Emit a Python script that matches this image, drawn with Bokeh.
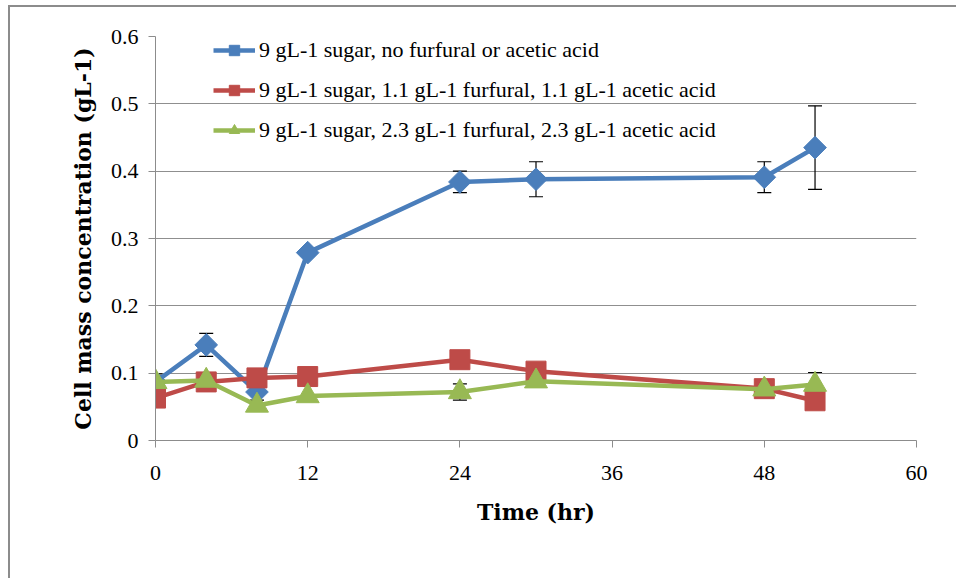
from bokeh.plotting import figure
from bokeh.models import (ColumnDataSource, Whisker, TeeHead, FixedTicker, Legend, LegendItem, Range1d)
from bokeh.embed import file_html
from bokeh.resources import INLINE
import math

# ---- data ----
time_hr = [0, 4, 8, 12, 24, 30, 48, 52]

s1_name = "9 gL-1 sugar, no furfural or acetic acid"
s1_vals = [0.087, 0.142, 0.072, 0.279, 0.384, 0.388, 0.391, 0.435]
s1_err = [0.012, 0.017, 0.012, 0.005, 0.016, 0.026, 0.023, 0.062]

s2_name = "9 gL-1 sugar, 1.1 gL-1 furfural, 1.1 gL-1 acetic acid"
s2_vals = [0.063, 0.087, 0.093, 0.095, 0.120, 0.103, 0.077, 0.059]
s2_err = [0, 0, 0, 0, 0, 0, 0, 0]

s3_name = "9 gL-1 sugar, 2.3 gL-1 furfural, 2.3 gL-1 acetic acid"
s3_vals = [0.087, 0.089, 0.052, 0.066, 0.072, 0.088, 0.076, 0.083]
s3_err = [0, 0, 0, 0, 0.012, 0, 0, 0.018]

x_ticks = [0, 12, 24, 36, 48, 60]
y_ticks = [0, 0.1, 0.2, 0.3, 0.4, 0.5, 0.6]
y_tick_labels = ["0", "0.1", "0.2", "0.3", "0.4", "0.5", "0.6"]

x_title = "Time (hr)"
y_title = "Cell mass concentration (gL-1)"

colors = ["#4A7EBB", "#BE4B48", "#98B954"]

# ---- figure ----
p = figure(frame_width=761, frame_height=404,
           x_range=Range1d(0, 60), y_range=Range1d(0, 0.6),
           output_backend="svg", toolbar_location=None,
           min_border_left=145, min_border_top=29, min_border_right=40, min_border_bottom=138)
p.styles = {"border-left": "2px solid #8c8c8c", "border-top": "2px solid #8c8c8c",
            "margin-left": "8px", "margin-top": "5px"}
p.outline_line_color = None
p.background_fill_color = "white"
p.border_fill_color = "white"

p.xgrid.visible = False
p.ygrid.grid_line_color = "#8f8f8f"
p.ygrid.grid_line_width = 1
p.ygrid.ticker = FixedTicker(ticks=y_ticks)

p.xaxis.ticker = FixedTicker(ticks=x_ticks)
p.yaxis.ticker = FixedTicker(ticks=y_ticks)
p.yaxis.major_label_overrides = {v: l for v, l in zip(y_ticks, y_tick_labels)}

for ax in (p.xaxis[0], p.yaxis[0]):
    ax.axis_line_color = "#8c8c8c"
    ax.major_tick_line_color = "#8c8c8c"
    ax.major_tick_in = 0
    ax.major_tick_out = 7
    ax.minor_tick_line_color = None
    ax.major_label_text_font = "Liberation Serif"
    ax.major_label_text_font_size = "22px"
    ax.major_label_text_color = "#000000"
    ax.axis_label_text_font = "DejaVu Serif"
    ax.axis_label_text_font_style = "bold"
    ax.axis_label_text_font_size = "22px"
    ax.axis_label_text_color = "#000000"

p.xaxis.axis_label = x_title
p.yaxis.axis_label = y_title
p.xaxis.major_label_standoff = 18
p.yaxis.major_label_standoff = 10
p.xaxis.axis_label_standoff = 16
p.yaxis.axis_label_standoff = 12

items = []
series = [(s1_name, s1_vals, s1_err, "square", 16, math.pi / 4),
          (s2_name, s2_vals, s2_err, "square", 20, 0),
          (s3_name, s3_vals, s3_err, "triangle", 23, 0)]

for (name, vals, errs, marker, size, ang), col in zip(series, colors):
    src = ColumnDataSource(dict(x=time_hr, y=vals))
    ln = p.line("x", "y", source=src, line_color=col, line_width=4.5)
    sc = p.scatter("x", "y", source=src, marker=marker, size=size, angle=ang,
                   fill_color=col, line_color=col)
    items.append(LegendItem(label=name, renderers=[ln, sc]))

for (name, vals, errs, marker, size, ang), col in zip(series, colors):
    xs = [t for t, e in zip(time_hr, errs) if e > 0]
    up = [v + e for v, e in zip(vals, errs) if e > 0]
    lo = [v - e for v, e in zip(vals, errs) if e > 0]
    if xs:
        wsrc = ColumnDataSource(dict(x=xs, upper=up, lower=lo))
        w = Whisker(base="x", upper="upper", lower="lower", source=wsrc,
                    line_color="black", line_width=1.2,
                    upper_head=TeeHead(size=14, line_color="black", line_width=1.2),
                    lower_head=TeeHead(size=14, line_color="black", line_width=1.2))
        p.add_layout(w)

legend = Legend(items=items, location=(58, 297), orientation="vertical",
                background_fill_alpha=0, border_line_color=None,
                label_text_font="Liberation Serif", label_text_font_size="22px",
                label_text_color="#000000",
                glyph_width=42, glyph_height=26, label_height=26,
                spacing=14, padding=0, margin=0, label_standoff=4)
p.add_layout(legend)

open("out.html", "w").write(file_html(p, INLINE))
